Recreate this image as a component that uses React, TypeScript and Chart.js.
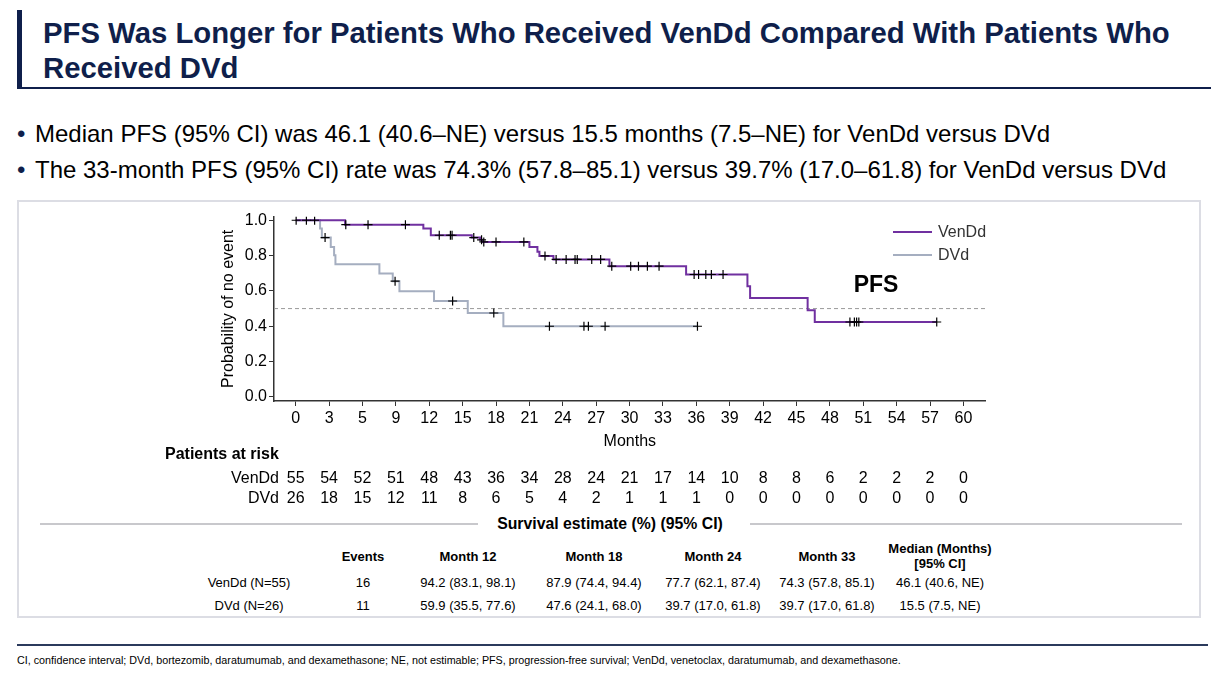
import React, { useEffect, useRef } from "react";
import { Chart, registerables } from "chart.js";

Chart.register(...registerables);

const FONT = "'Liberation Sans', Arial, Helvetica, sans-serif";
const NAVY = "#0F1F4B";

// ---- data ----
const seriesNames = ["VenDd", "DVd"];
const seriesColors = ["#7030A0", "#A5AEC0"];

const venTimes = [0, 4.44, 11.47, 12.14, 15.82, 16.57, 16.75, 21.0, 21.72, 21.9, 23.16, 28.19, 35.08, 40.59, 40.83, 46.0, 46.64, 57.6];
const venSurv = [1.0, 0.975, 0.953, 0.915, 0.902, 0.889, 0.877, 0.849, 0.821, 0.798, 0.778, 0.74, 0.693, 0.627, 0.56, 0.491, 0.424, 0.424];

const dvdTimes = [0, 2.19, 2.35, 3.15, 3.45, 3.57, 7.52, 8.72, 9.32, 12.43, 15.46, 18.66, 36.1];
const dvdSurv = [1.0, 0.953, 0.902, 0.849, 0.802, 0.751, 0.698, 0.655, 0.598, 0.543, 0.475, 0.4, 0.4];

const venCensorTimes = [0.04, 0.96, 1.7, 4.5, 6.5, 9.86, 12.9, 13.9, 14.05, 16.0, 16.7, 16.9, 18.0, 20.5, 22.4, 23.4, 24.3, 25.1, 25.3, 26.6, 27.4, 28.4, 30.1, 30.8, 31.6, 32.65, 35.8, 36.2, 36.85, 37.35, 38.4, 49.8, 50.2, 50.4, 50.6, 57.6];
const dvdCensorTimes = [2.64, 8.93, 14.1, 17.8, 22.8, 25.9, 26.3, 27.8, 36.1];

const medianLevel = 0.5;

const xTickValues = [0, 3, 6, 9, 12, 15, 18, 21, 24, 27, 30, 33, 36, 39, 42, 45, 48, 51, 54, 57, 60];
const xTickLabels = ["0", "3", "5", "9", "12", "15", "18", "21", "24", "27", "30", "33", "36", "39", "42", "45", "48", "51", "54", "57", "60"];
const yTickValues = [0, 0.2, 0.4, 0.6, 0.8, 1.0];

const riskVen = [55, 54, 52, 51, 48, 43, 36, 34, 28, 24, 21, 17, 14, 10, 8, 8, 6, 2, 2, 2, 0];
const riskDvd = [26, 18, 15, 12, 11, 8, 6, 5, 4, 2, 1, 1, 1, 0, 0, 0, 0, 0, 0, 0, 0];

const tableHeaders = ["Events", "Month 12", "Month 18", "Month 24", "Month 33", "Median (Months)\n[95% CI]"];
const tableRowLabels = ["VenDd (N=55)", "DVd (N=26)"];
const tableVen = ["16", "94.2 (83.1, 98.1)", "87.9 (74.4, 94.4)", "77.7 (62.1, 87.4)", "74.3 (57.8, 85.1)", "46.1 (40.6, NE)"];
const tableDvd = ["11", "59.9 (35.5, 77.6)", "47.6 (24.1, 68.0)", "39.7 (17.0, 61.8)", "39.7 (17.0, 61.8)", "15.5 (7.5, NE)"];

const titleLines = ["PFS Was Longer for Patients Who Received VenDd Compared With Patients Who", "Received DVd"];
const bullets = [
  "Median PFS (95% CI) was 46.1 (40.6\u2013NE) versus 15.5 months (7.5\u2013NE) for VenDd versus DVd",
  "The 33-month PFS (95% CI) rate was 74.3% (57.8\u201385.1) versus 39.7% (17.0\u201361.8) for VenDd versus DVd",
];
const footnote = "CI, confidence interval; DVd, bortezomib, daratumumab, and dexamethasone; NE, not estimable; PFS, progression-free survival; VenDd, venetoclax, daratumumab, and dexamethasone.";

function survivalAt(times: number[], surv: number[], t: number) {
  let s = surv[0];
  for (let i = 0; i < times.length; i++) if (times[i] <= t) s = surv[i];
  return s;
}

const extrasPlugin = {
  id: "kmExtras",
  afterDraw(chart: any) {
    const ctx = chart.ctx as CanvasRenderingContext2D;
    const xs = chart.scales.x;
    ctx.save();
    // legend
    ctx.textBaseline = "middle";
    ctx.textAlign = "left";
    ctx.font = `16px ${FONT}`;
    const legY = [32, 55];
    seriesNames.forEach((name, i) => {
      ctx.strokeStyle = seriesColors[i];
      ctx.lineWidth = 2;
      ctx.beginPath();
      ctx.moveTo(743, legY[i]);
      ctx.lineTo(782, legY[i]);
      ctx.stroke();
      ctx.fillStyle = "#333";
      ctx.fillText(name, 788, legY[i] + 1);
    });
    // PFS label
    ctx.font = `bold 23px ${FONT}`;
    ctx.fillStyle = "#000";
    ctx.textAlign = "center";
    ctx.fillText("PFS", 726, 86);
    // risk table
    ctx.font = `bold 16px ${FONT}`;
    ctx.textAlign = "left";
    ctx.fillText("Patients at risk", 15, 255);
    ctx.font = `16px ${FONT}`;
    const rows = [riskVen, riskDvd];
    const rowY = [279, 299];
    rows.forEach((row, r) => {
      ctx.textAlign = "right";
      ctx.fillText(seriesNames[r], 129, rowY[r]);
      ctx.textAlign = "center";
      row.forEach((n, i) => {
        ctx.fillText(String(n), xs.getPixelForValue(xTickValues[i]), rowY[r]);
      });
    });
    ctx.restore();
  },
};

function KMChart() {
  const ref = useRef<HTMLCanvasElement>(null);
  useEffect(() => {
    if (!ref.current) return;
    const censorStyle = {
      showLine: false,
      pointStyle: "cross",
      pointRadius: 4.5,
      pointBorderColor: "#000",
      pointBorderWidth: 1.2,
      pointBackgroundColor: "#000",
    };
    const chart = new Chart(ref.current, {
      type: "line",
      data: {
        datasets: [
          {
            label: "VenDd censored",
            data: venCensorTimes.map((t) => ({ x: t, y: survivalAt(venTimes, venSurv, t) })),
            ...censorStyle,
          } as any,
          {
            label: "DVd censored",
            data: dvdCensorTimes.map((t) => ({ x: t, y: survivalAt(dvdTimes, dvdSurv, t) })),
            ...censorStyle,
          } as any,
          {
            label: seriesNames[0],
            data: venTimes.map((t, i) => ({ x: t, y: venSurv[i] })),
            borderColor: seriesColors[0],
            borderWidth: 2,
            pointRadius: 0,
            stepped: "before",
            fill: false,
          },
          {
            label: seriesNames[1],
            data: dvdTimes.map((t, i) => ({ x: t, y: dvdSurv[i] })),
            borderColor: seriesColors[1],
            borderWidth: 2,
            pointRadius: 0,
            stepped: "before",
            fill: false,
          },
          {
            label: "median",
            data: [
              { x: -1.95, y: medianLevel },
              { x: 62, y: medianLevel },
            ],
            borderColor: "#9a9a9a",
            borderWidth: 1,
            borderDash: [4, 3],
            pointRadius: 0,
            fill: false,
          },
        ],
      },
      options: {
        animation: false,
        responsive: false,
        devicePixelRatio: 1,
        layout: { padding: { left: 0, right: 24.3, top: 16.7, bottom: 0 } },
        plugins: { legend: { display: false }, tooltip: { enabled: false } },
        scales: {
          x: {
            type: "linear",
            min: -1.95,
            max: 62,
            afterFit: (s: any) => {
              s.height = 109;
            },
            afterBuildTicks: (s: any) => {
              s.ticks = xTickValues.map((v) => ({ value: v }));
            },
            ticks: {
              callback: (_v: any, i: number) => xTickLabels[i],
              font: { size: 16, family: FONT },
              color: "#000",
              padding: 3,
              maxRotation: 0,
              autoSkip: false,
            },
            grid: { drawOnChartArea: false, drawTicks: true, tickLength: 5, color: "#333" },
            border: { display: true, color: "#333", width: 1.5 },
            title: {
              display: true,
              text: "Months",
              font: { size: 16, family: FONT },
              color: "#000",
              padding: { top: 0, bottom: 58.4 },
            },
          },
          y: {
            type: "linear",
            min: -0.023,
            max: 1.02,
            afterFit: (s: any) => {
              s.width = 124;
            },
            afterBuildTicks: (s: any) => {
              s.ticks = yTickValues.map((v) => ({ value: v }));
            },
            ticks: {
              callback: (v: any) => Number(v).toFixed(1),
              font: { size: 16, family: FONT },
              color: "#000",
              padding: 2,
            },
            grid: { drawOnChartArea: false, drawTicks: true, tickLength: 5, color: "#333" },
            border: { display: true, color: "#333", width: 1.5 },
            title: {
              display: true,
              text: "Probability of no event",
              font: { size: 16, family: FONT },
              color: "#000",
              padding: { top: 69.4, bottom: 0 },
            },
          },
        },
      } as any,
      plugins: [extrasPlugin],
    });
    return () => chart.destroy();
  }, []);
  return <canvas ref={ref} width={860} height={310} style={{ position: "absolute", left: 150, top: 200, width: 860, height: 310 }} />;
}

const colCenters = [363, 468, 594, 713, 827, 940];

export default function App() {
  const abs = (l: number, t: number, extra: any = {}) => ({ position: "absolute" as const, left: l, top: t, ...extra });
  return (
    <div style={{ position: "absolute", left: 0, top: 0, width: 1211, height: 674, background: "#fff", fontFamily: FONT, overflow: "hidden", color: "#000" }}>
      {/* title */}
      <div style={abs(17, 10, { width: 5, height: 79, background: NAVY })} />
      <div style={abs(17, 87, { width: 1194, height: 2, background: NAVY })} />
      <div style={abs(43, 15, { fontSize: 29.3, fontWeight: "bold", color: NAVY, lineHeight: "35px", whiteSpace: "nowrap" })}>
        {titleLines[0]}
        <br />
        {titleLines[1]}
      </div>
      {/* bullets */}
      {bullets.map((b, i) => (
        <div key={i} style={abs(17, 118 + i * 36, { fontSize: 24, lineHeight: "32px", whiteSpace: "nowrap" })}>
          <span style={{ color: NAVY, display: "inline-block", width: 18 }}>{"\u2022"}</span>
          {b}
        </div>
      ))}
      {/* chart box */}
      <div style={abs(17, 200, { width: 1180, height: 414, border: "2px solid #dcdde4" })} />
      <KMChart />
      {/* survival estimate table */}
      <div style={abs(40, 523, { width: 438, height: 1.5, background: "#c8c8cc" })} />
      <div style={abs(750, 523, { width: 432, height: 1.5, background: "#c8c8cc" })} />
      <div style={abs(610, 524, { transform: "translate(-50%, -50%)", fontSize: 15.8, fontWeight: "bold", whiteSpace: "nowrap" })}>
        Survival estimate (%) (95% CI)
      </div>
      {tableHeaders.map((h, i) => (
        <div key={h} style={abs(colCenters[i], 556, { transform: "translate(-50%, -50%)", fontSize: 13, fontWeight: "bold", textAlign: "center", whiteSpace: "pre", lineHeight: "15px" })}>
          {h}
        </div>
      ))}
      {[tableVen, tableDvd].map((row, r) => (
        <React.Fragment key={r}>
          <div style={abs(249, 582 + r * 23, { transform: "translate(-50%, -50%)", fontSize: 13, whiteSpace: "nowrap" })}>{tableRowLabels[r]}</div>
          {row.map((v, i) => (
            <div key={i} style={abs(colCenters[i], 582 + r * 23, { transform: "translate(-50%, -50%)", fontSize: 13, whiteSpace: "nowrap" })}>
              {v}
            </div>
          ))}
        </React.Fragment>
      ))}
      {/* footnote */}
      <div style={abs(17, 644, { width: 1191, height: 2, background: "#2B3A5C" })} />
      <div style={abs(17, 653, { fontSize: 10.75, whiteSpace: "nowrap", lineHeight: "14px" })}>{footnote}</div>
    </div>
  );
}
